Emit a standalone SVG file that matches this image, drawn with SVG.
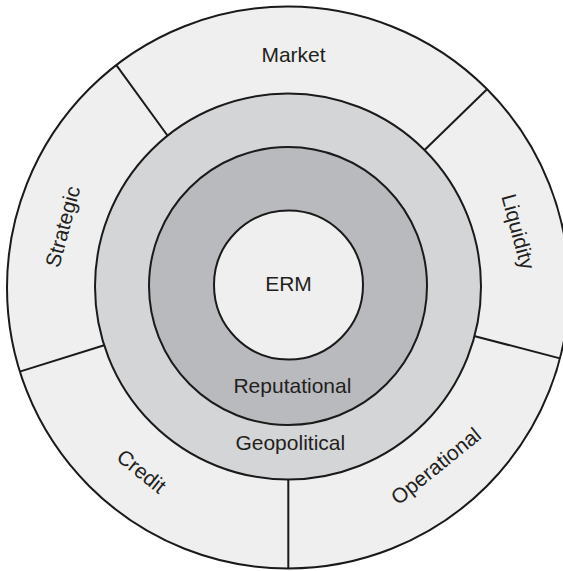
<svg xmlns="http://www.w3.org/2000/svg" width="563" height="571" viewBox="0 0 563 571">
<style>
.ring{stroke:#1a1a1a;stroke-width:2}
.div{stroke:#1a1a1a;stroke-width:2;fill:none}
text{font-family:"Liberation Sans",Arial,sans-serif;font-size:21px;fill:#231f20;text-anchor:middle}
</style>
<rect width="563" height="571" fill="#ffffff"/>
<g id="outer-ring">
<circle class="ring" cx="288" cy="287.5" r="281" fill="#efefef"/>
</g>
<g id="connectors">
<line class="div" x1="116.7" y1="65.7" x2="170" y2="139"/>
<line class="div" x1="486.5" y1="89.8" x2="423" y2="151.5"/>
<line class="div" x1="473" y1="335.7" x2="560" y2="358.4"/>
<line class="div" x1="288.3" y1="475" x2="288.3" y2="568"/>
<line class="div" x1="105" y1="345" x2="19.7" y2="371.6"/>
</g>
<g id="geopolitical">
<circle class="ring" cx="288" cy="286.5" r="193" fill="#d4d5d7"/>
<text x="290.3" y="449.5">Geopolitical</text>
</g>
<g id="reputational">
<circle class="ring" cx="288" cy="286" r="139" fill="#b9babd"/>
<text x="292.4" y="393.2">Reputational</text>
</g>
<g id="erm">
<circle class="ring" cx="288.5" cy="285" r="74.5" fill="#efefef"/>
<text x="288.5" y="290.8">ERM</text>
</g>
<g id="market"><text x="293.5" y="61.8">Market</text></g>
<g id="liquidity"><text transform="translate(518.4,231.5) rotate(75)" y="7.5">Liquidity</text></g>
<g id="operational"><text transform="translate(435.8,465.8) rotate(-39)" y="7.5">Operational</text></g>
<g id="credit"><text transform="translate(141.7,471) rotate(39)" y="7.5">Credit</text></g>
<g id="strategic"><text transform="translate(62.5,226.5) rotate(-75)" y="7.5">Strategic</text></g>
</svg>
